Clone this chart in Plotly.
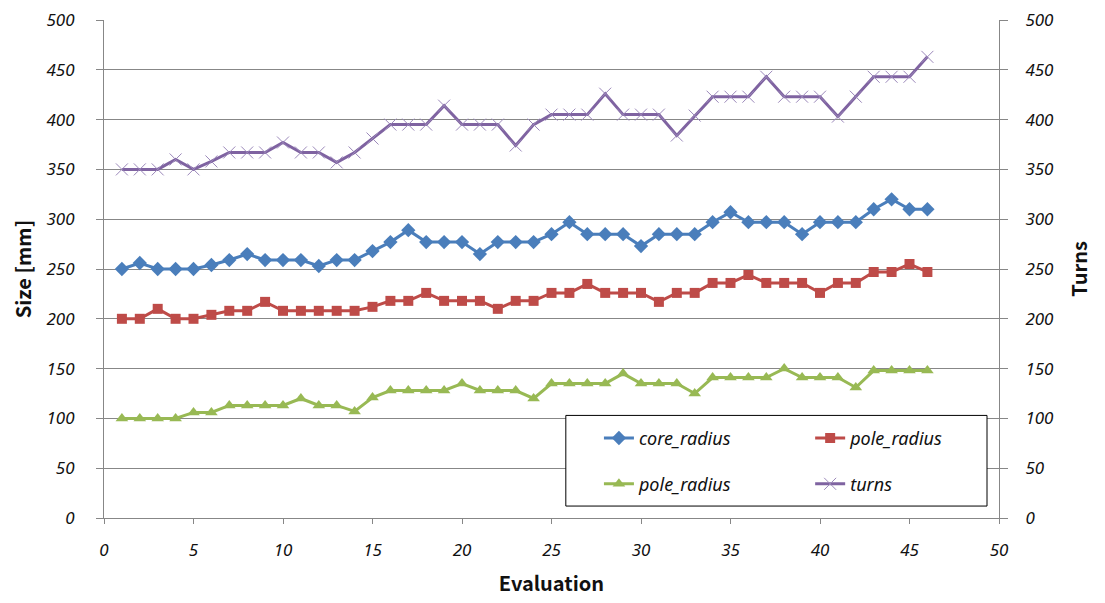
import plotly.graph_objects as go

evaluation = list(range(1, 47))
core_radius = [250, 256, 250, 250, 250, 254, 259, 265, 259, 259,
               259, 253, 259, 259, 268, 277, 289, 277, 277, 277,
               265, 277, 277, 277, 285, 297, 285, 285, 285, 273,
               285, 285, 285, 297, 307, 297, 297, 297, 285, 297,
               297, 297, 310, 320, 310, 310]
pole_radius_a = [200, 200, 210, 200, 200, 204, 208, 208, 217, 208,
                 208, 208, 208, 208, 212, 218, 218, 226, 218, 218,
                 218, 210, 218, 218, 226, 226, 235, 226, 226, 226,
                 217, 226, 226, 236, 236, 244, 236, 236, 236, 226,
                 236, 236, 247, 247, 255, 247]
pole_radius_b = [100, 100, 100, 100, 106, 106, 113, 113, 113, 113,
                 120, 113, 113, 107, 121, 128, 128, 128, 128, 135,
                 128, 128, 128, 120, 135, 135, 135, 135, 145, 135,
                 135, 135, 125, 141, 141, 141, 141, 150, 141, 141,
                 141, 131, 148, 148, 148, 148]
turns = [350, 350, 350, 360, 350, 358, 367, 367, 367, 377,
         367, 367, 357, 367, 381, 395, 395, 395, 414, 395,
         395, 395, 374, 395, 405, 405, 405, 426, 405, 405,
         405, 384, 404, 423, 423, 423, 443, 423, 423, 423,
         403, 423, 443, 443, 443, 463]
x_ticks = list(range(0, 51, 5))
y_ticks = list(range(0, 501, 50))

BLUE = "#4A7EBB"
RED = "#BE4B48"
GREEN = "#98B954"
PURPLE = "#7F63A1"
GRID = "#878787"

tick_font = dict(family="Noto Sans", size=17, color="#111111", style="italic")
title_font = dict(family="Noto Sans CJK KR", size=20, color="#111111", weight="bold")
legend_font = dict(family="Noto Sans", size=18, color="#111111", style="italic")

fig = go.Figure()
fig.add_trace(go.Scatter(x=evaluation, y=core_radius, name="core_radius",
                         mode="lines+markers", line=dict(color=BLUE, width=3),
                         marker=dict(symbol="diamond", size=11, color=BLUE),
                         legend="legend"))
fig.add_trace(go.Scatter(x=evaluation, y=pole_radius_a, name="pole_radius",
                         mode="lines+markers", line=dict(color=RED, width=3),
                         marker=dict(symbol="square", size=10, color=RED),
                         legend="legend2"))
fig.add_trace(go.Scatter(x=evaluation, y=pole_radius_b, name="pole_radius",
                         mode="lines+markers", line=dict(color=GREEN, width=3),
                         marker=dict(symbol="triangle-up", size=11, color=GREEN),
                         legend="legend3"))
fig.add_trace(go.Scatter(x=evaluation, y=turns, name="turns", yaxis="y2",
                         mode="lines+markers", line=dict(color=PURPLE, width=3),
                         marker=dict(symbol="x-thin", size=12, color=PURPLE,
                                     line=dict(color="#9B88BA", width=1)),
                         legend="legend4"))

def leg(x, y):
    return dict(x=x, y=y, xanchor="left", yanchor="middle", xref="paper", yref="paper",
                bgcolor="rgba(0,0,0,0)", borderwidth=0, font=legend_font)

fig.update_layout(
    width=1097, height=595,
    margin=dict(l=96, r=106, t=12, b=85),
    plot_bgcolor="white", paper_bgcolor="white",
    showlegend=True,
    legend=leg(0.553, 0.160),
    legend2=leg(0.789, 0.160),
    legend3=leg(0.553, 0.068),
    legend4=leg(0.789, 0.068),
    xaxis=dict(range=[0, 50], tickvals=x_ticks, showgrid=False, zeroline=False,
               showline=True, linecolor=GRID, linewidth=1,
               ticks="outside", ticklen=5, tickcolor=GRID,
               tickfont=tick_font, ticklabelstandoff=12, ticklabeloverflow="allow",
               title=dict(text="Evaluation", font=title_font, standoff=16),
               automargin=False),
    yaxis=dict(range=[0, 500], tickvals=y_ticks, showgrid=True, gridcolor=GRID,
               gridwidth=1, zeroline=False, showline=True, linecolor=GRID, linewidth=1,
               ticks="outside", ticklen=7, tickcolor=GRID,
               tickfont=tick_font, ticklabelstandoff=18, ticklabeloverflow="allow",
               title=dict(text="Size [mm]", font=title_font, standoff=12),
               automargin=False),
    yaxis2=dict(range=[0, 500], tickvals=y_ticks, overlaying="y", side="right",
                showgrid=False, zeroline=False, showline=True, linecolor=GRID, linewidth=1,
                ticks="outside", ticklen=8, tickcolor=GRID,
                tickfont=tick_font, ticklabelstandoff=14, ticklabeloverflow="allow",
                title=dict(text="Turns", font=title_font, standoff=19),
                automargin=False),
    shapes=[dict(type="rect", xref="paper", yref="paper",
                 x0=0.516, x1=0.9866, y0=0.024, y1=0.206,
                 line=dict(color="black", width=1), fillcolor="white", layer="above")],
)

fig.write_html("out.html")
